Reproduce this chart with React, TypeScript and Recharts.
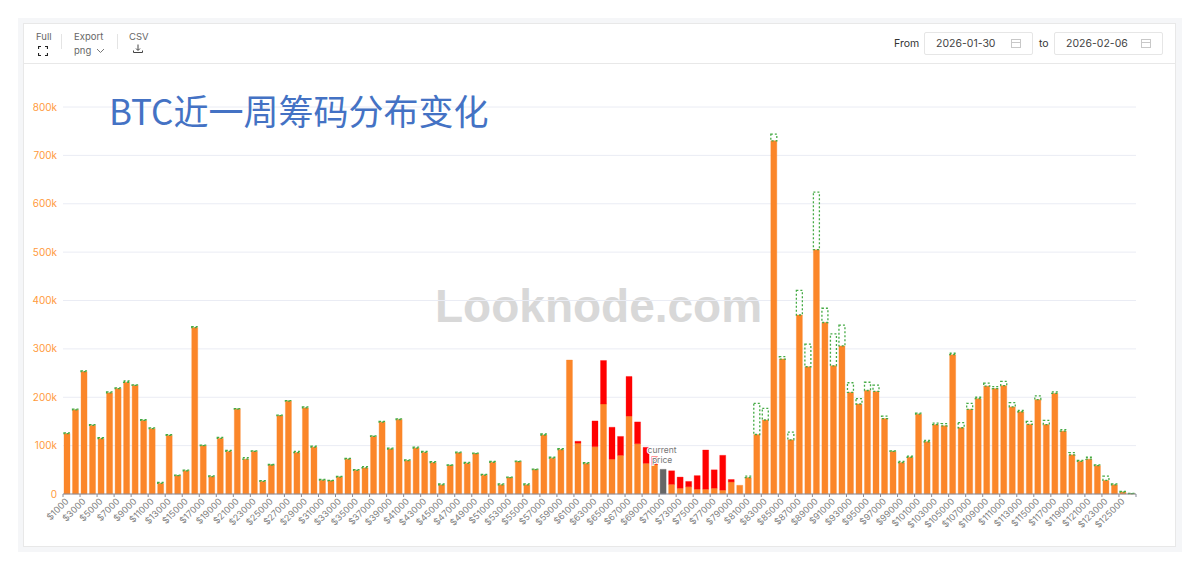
import { BarChart, Bar, XAxis, YAxis, CartesianGrid, Cell, LabelList } from "recharts";

const prices = [
  1000, 2000, 3000, 4000, 5000, 6000, 7000, 8000, 9000, 10000,
  11000, 12000, 13000, 14000, 15000, 16000, 17000, 18000, 19000, 20000,
  21000, 22000, 23000, 24000, 25000, 26000, 27000, 28000, 29000, 30000,
  31000, 32000, 33000, 34000, 35000, 36000, 37000, 38000, 39000, 40000,
  41000, 42000, 43000, 44000, 45000, 46000, 47000, 48000, 49000, 50000,
  51000, 52000, 53000, 54000, 55000, 56000, 57000, 58000, 59000, 60000,
  61000, 62000, 63000, 64000, 65000, 66000, 67000, 68000, 69000, 70000,
  71000, 72000, 73000, 74000, 75000, 76000, 77000, 78000, 79000, 80000,
  81000, 82000, 83000, 84000, 85000, 86000, 87000, 88000, 89000, 90000,
  91000, 92000, 93000, 94000, 95000, 96000, 97000, 98000, 99000, 100000,
  101000, 102000, 103000, 104000, 105000, 106000, 107000, 108000, 109000, 110000,
  111000, 112000, 113000, 114000, 115000, 116000, 117000, 118000, 119000, 120000,
  121000, 122000, 123000, 124000, 125000, 126000,
];

// all volumes in thousands of BTC
const current = [
  125, 174, 253, 142, 114.7, 209, 218, 231, 224.5, 152,
  135, 22, 121, 38, 48, 344, 100, 36, 115, 88,
  175.5, 72, 88, 26, 60, 162, 192, 85.7, 178, 97,
  28.5, 27, 35, 72, 49, 54, 119, 148.6, 93, 154,
  69, 95, 86, 65, 18.7, 59, 85, 63.5, 83.6, 39,
  65.6, 19, 34, 67, 19, 50.5, 122, 74, 92, 277,
  105, 63, 98, 186, 72, 80, 161, 104, 63.5, 61,
  51, 20, 12, 15, 10, 10, 12, 8, 25, 18,
  34, 123, 153, 730, 279, 112, 370, 263, 505, 354.5,
  265, 306, 210, 186, 214, 212, 156, 88, 65, 76,
  165, 108, 143.5, 141, 288, 137, 175, 197, 223, 218,
  224, 180, 170, 144, 195, 143.5, 208, 130, 81, 67.6,
  72, 58.6, 28, 19, 4, 0.7,
];

const added = [
  0, 0, 0, 0, 0, 0, 0, 0, 0, 0,
  0, 0, 0, 0, 0, 0, 0, 0, 0, 0,
  0, 0, 0, 0, 0, 0, 0, 0, 0, 0,
  0, 0, 0, 0, 0, 0, 0, 0, 0, 0,
  0, 0, 0, 0, 0, 0, 0, 0, 0, 0,
  0, 0, 0, 0, 0, 0, 0, 0, 0, 0,
  4, 0, 53, 90, 66, 39, 82, 45, 33, 16,
  0, 28, 23, 11, 28, 81, 38, 72, 5, 0,
  0, 0, 0, 0, 0, 0, 0, 0, 0, 0,
  0, 0, 0, 0, 0, 0, 0, 0, 0, 0,
  0, 0, 0, 0, 0, 0, 0, 0, 0, 0,
  0, 0, 0, 0, 0, 0, 0, 0, 0, 0,
  0, 0, 0, 0, 0, 0,
];

const removed = [
  1.5, 1.5, 1.5, 1.5, 2, 2, 1.5, 3, 1, 1.5,
  1.5, 2, 1.5, 1, 1.5, 2, 1, 1.5, 2, 2,
  1, 3, 1, 1.5, 1, 1, 1, 2.5, 2, 2,
  1.5, 1, 1.5, 1.5, 1.5, 2.5, 1, 1.5, 2, 1.5,
  1.5, 2, 2, 2, 2, 1, 1.5, 2, 1, 1.5,
  2, 2, 1, 1, 2, 1, 2, 2, 2, 0,
  0, 2, 0, 0, 0, 0, 0, 0, 0, 0,
  0, 0, 0, 0, 0, 0, 0, 0, 0, 0,
  3, 64.5, 24, 14, 5, 16, 51, 47, 119, 29.5,
  66, 43, 20, 11, 17, 13, 5, 1, 2.5, 2.5,
  2, 3, 3, 4.5, 3, 10.5, 12.5, 3, 6, 4,
  9, 9, 3, 6, 8, 8.5, 3, 3, 4.5, 2,
  4, 1.5, 9, 2, 1.5, 0.7,
];

const yTicks = [0, 100, 200, 300, 400, 500, 600, 700, 800];
const currentPrice = 71000;

const data = prices.map((price, i) => ({
  name: `$${price}`,
  price,
  current: current[i],
  added: added[i],
  removed: removed[i],
  // only the current price bar gets a label anchor, zero-height entries are skipped by LabelList
  marker: price === currentPrice ? 0.01 : 0,
}));

const FONT = "Inter, 'Noto Sans', sans-serif";
const BAND = 1073 / prices.length;

const XTick = ({ x, y, payload }: any) => (
  <g>
    <line x1={x - BAND / 2} x2={x - BAND / 2} y1={y} y2={y + 3} stroke="#8a8d99" />
    {payload.value === "$125000" && (
      <line x1={x + BAND * 1.5} x2={x + BAND * 1.5} y1={y} y2={y + 3} stroke="#8a8d99" />
    )}
    <text
      x={x + 2}
      y={y + 8}
      textAnchor="end"
      fontSize={9}
      fontFamily={FONT}
      fill="#808080"
      transform={`rotate(-45 ${x + 2} ${y + 8})`}
    >
      {payload.value}
    </text>
  </g>
);

const PriceLabel = ({ x, y, width }: any) => {
  const cx = x + width / 2;
  return (
    <g fontSize={8.5} fontFamily={FONT} fill="#777" stroke="#fff" strokeWidth={2} textAnchor="middle" style={{ paintOrder: "stroke" }}>
      <text x={cx - 1} y={y - 16}>current</text>
      <text x={cx - 1} y={y - 6}>price</text>
    </g>
  );
};

const Field = ({ left, value }: { left: number; value: string }) => (
  <div
    style={{
      position: "absolute",
      left,
      top: 32,
      width: 107,
      height: 21,
      border: "1px solid #e6e6e6",
      borderRadius: 2,
      background: "#fff",
    }}
  >
    <span style={{ position: "absolute", left: 11, top: 4, fontSize: 10.5, lineHeight: "13px", color: "#444" }}>{value}</span>
    <svg width="11" height="11" style={{ position: "absolute", left: 86, top: 5 }}>
      <rect x="0.5" y="1.5" width="9" height="8" fill="none" stroke="#c8c8c8" />
      <line x1="0" x2="10" y1="4.5" y2="4.5" stroke="#c8c8c8" />
    </svg>
  </div>
);

const label = (left: number, top: number, text: string, color = "#666", size = 9.5) => (
  <span style={{ position: "absolute", left, top, fontSize: size, lineHeight: "13px", color }}>{text}</span>
);

export default function App() {
  return (
    <div style={{ position: "absolute", left: 0, top: 0, width: 1200, height: 570, background: "#fff", fontFamily: FONT, overflow: "hidden" }}>
      <div style={{ position: "absolute", left: 18, top: 18, width: 1164, height: 534, background: "#f5f6f8" }} />
      <div style={{ position: "absolute", left: 23, top: 23, width: 1151, height: 522, background: "#fff", border: "1px solid #e8e8e8" }} />
      <div style={{ position: "absolute", left: 24, top: 63, width: 1151, height: 1, background: "#e8e8e8" }} />

      {label(36, 30, "Full")}
      <svg width="10" height="10" style={{ position: "absolute", left: 38, top: 46 }}>
        <path d="M0.5 3V0.5H3M7 0.5H9.5V3M9.5 7V9.5H7M3 9.5H0.5V7" fill="none" stroke="#222" strokeWidth="1.2" />
      </svg>
      <div style={{ position: "absolute", left: 61, top: 34, width: 1, height: 15, background: "#e4e4e4" }} />
      {label(74, 30, "Export")}
      {label(74, 44, "png")}
      <svg width="9" height="6" style={{ position: "absolute", left: 96, top: 48 }}>
        <path d="M1 1L4.5 4.5L8 1" fill="none" stroke="#777" />
      </svg>
      <div style={{ position: "absolute", left: 117, top: 34, width: 1, height: 15, background: "#e4e4e4" }} />
      {label(129, 30, "CSV")}
      <svg width="10" height="10" style={{ position: "absolute", left: 133, top: 44 }}>
        <path d="M5 0.5V6M3 4.5L5 6.5L7 4.5M0.5 6.5V8.5H9.5V6.5" fill="none" stroke="#444" />
      </svg>

      {label(894, 37, "From", "#333", 10.5)}
      <Field left={924} value="2026-01-30" />
      {label(1039, 37, "to", "#333", 10.5)}
      <Field left={1054} value="2026-02-06" />

      <div style={{ position: "absolute", left: 435, top: 276, fontSize: 46, lineHeight: "60px", color: "#d8d8d8", fontFamily: "'Liberation Sans', sans-serif", fontWeight: 700, whiteSpace: "nowrap" }}>
        Looknode.com
      </div>

      <BarChart
        width={1200}
        height={570}
        data={data}
        margin={{ top: 107, right: 64, bottom: 0, left: 0 }}
        barSize={6}
        style={{ position: "absolute", left: 0, top: 0 }}
      >
        <CartesianGrid horizontal vertical={false} stroke="#eaecf4" />
        <XAxis
          dataKey="name"
          interval={1}
          tickLine={false}
          tickSize={0}
          tickMargin={0}
          axisLine={{ stroke: "#8a8d99" }}
          tick={<XTick />}
          height={76}
        />
        <YAxis
          width={63}
          domain={[0, 800]}
          ticks={yTicks}
          axisLine={false}
          tickLine={false}
          tickMargin={0}
          tick={{ fontSize: 10, fontFamily: FONT, fill: "#ff9a3c" }}
          tickFormatter={(v: number) => (v === 0 ? "0" : `${v}k`)}
        />
        <Bar dataKey="current" stackId="btc" stroke="rgba(252,134,42,0.35)" isAnimationActive={false}>
          {data.map((d) => (
            <Cell
              key={d.name}
              fill={d.price === currentPrice ? "#666666" : "#fb8629"}
              stroke={d.price === currentPrice ? "rgba(102,102,102,0.35)" : "rgba(252,134,42,0.35)"}
            />
          ))}
        </Bar>
        <Bar dataKey="added" stackId="btc" fill="#ff0000" stroke="rgba(255,0,0,0.3)" isAnimationActive={false} />
        <Bar
          dataKey="removed"
          stackId="btc"
          fill="rgba(255,255,255,0)"
          stroke="#44aa44"
          strokeWidth={1.3}
          strokeDasharray="2 2"
          isAnimationActive={false}
        />
        <Bar dataKey="marker" stackId="btc" fill="none" stroke="none" isAnimationActive={false}>
          <LabelList dataKey="marker" content={<PriceLabel />} />
        </Bar>
      </BarChart>

      <div style={{ position: "absolute", left: 109, top: 87, fontSize: 35, lineHeight: "46px", color: "#4472c4", fontFamily: "'Noto Sans CJK SC', 'Noto Sans', sans-serif", whiteSpace: "nowrap" }}>
        BTC近一周筹码分布变化
      </div>
    </div>
  );
}
